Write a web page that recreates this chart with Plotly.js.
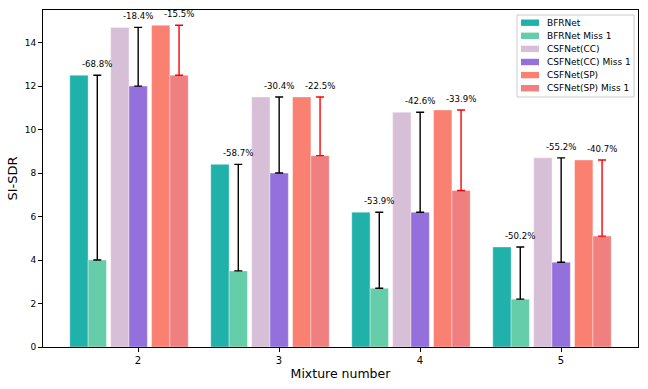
<!DOCTYPE html>
<html>
<head>
<meta charset="utf-8">
<script src="https://cdn.plot.ly/plotly-3.0.1.min.js"></script>
<style>html,body{margin:0;padding:0;background:#fff;}#chart{width:648px;height:389px;}</style>
</head>
<body>
<div id="chart"></div>
<script>
const mixtures = [2, 3, 4, 5];
const seriesNames = ['BFRNet', 'BFRNet Miss 1', 'CSFNet(CC)', 'CSFNet(CC) Miss 1', 'CSFNet(SP)', 'CSFNet(SP) Miss 1'];
const bfrnet = [12.5, 8.4, 6.2, 4.6];
const bfrnetMiss = [4.0, 3.5, 2.7, 2.2];
const csfCC = [14.7, 11.5, 10.8, 8.7];
const csfCCMiss = [12.0, 8.0, 6.2, 3.9];
const csfSP = [14.8, 11.5, 10.9, 8.6];
const csfSPMiss = [12.5, 8.8, 7.2, 5.1];
const dropBFR = ['-68.8%', '-58.7%', '-53.9%', '-50.2%'];
const dropCC = ['-18.4%', '-30.4%', '-42.6%', '-55.2%'];
const dropSP = ['-15.5%', '-22.5%', '-33.9%', '-40.7%'];

const colors = ['#20B2AA', '#66CDAA', '#D8BFD8', '#9370DB', '#FA8072', '#F08080'];
const W = 0.13;
const offsets = [-0.484, -0.354, -0.194, -0.064, 0.096, 0.226];
const FONT = 'DejaVu Sans, sans-serif';
const SMALL = 8.6;

function barTrace(k, y, full, errColor) {
  const t = {
    type: 'bar', name: seriesNames[k], x: mixtures, y: y,
    width: W, offset: offsets[k],
    marker: {color: colors[k], line: {width: 0.6, color: 'rgba(255,255,255,0.6)'}},
    hoverinfo: 'y', showlegend: false
  };
  if (full) {
    t.error_y = {
      type: 'data', symmetric: false,
      array: full.map((v, i) => v - y[i]),
      arrayminus: y.map(() => 0),
      color: errColor, thickness: 1.4, width: 4
    };
  }
  return t;
}

const traces = [
  barTrace(0, bfrnet),
  barTrace(1, bfrnetMiss, bfrnet, '#000000'),
  barTrace(2, csfCC),
  barTrace(3, csfCCMiss, csfCC, '#000000'),
  barTrace(4, csfSP),
  barTrace(5, csfSPMiss, csfSP, '#FF0000')
];

const annotations = [];
[[dropBFR, bfrnet, 1], [dropCC, csfCC, 3], [dropSP, csfSP, 5]].forEach(([labels, full, k]) => {
  mixtures.forEach((m, i) => {
    annotations.push({
      x: m + offsets[k] + W / 2, y: full[i], xref: 'x', yref: 'y',
      text: labels[i], showarrow: false, yanchor: 'bottom', yshift: 4,
      font: {family: FONT, size: SMALL, color: '#000'}
    });
  });
});

// Legend (matplotlib-style compact box), placed in paper coordinates
const M = {l: 43, r: 10, t: 10, b: 42};
const plotW = 648 - M.l - M.r, plotH = 389 - M.t - M.b;
const px = v => (v - M.l) / plotW;
const py = v => (389 - M.b - v) / plotH;
const shapes = [{
  type: 'rect', xref: 'paper', yref: 'paper',
  x0: px(517), x1: px(634), y0: py(97), y1: py(15),
  line: {color: '#cccccc', width: 1}, fillcolor: 'rgba(255,255,255,0.85)', layer: 'above'
}];
seriesNames.forEach((name, k) => {
  const cy = 22.7 + 13.1 * k;
  shapes.push({
    type: 'rect', xref: 'paper', yref: 'paper',
    x0: px(521), x1: px(539), y0: py(cy + 3.2), y1: py(cy - 3.2),
    line: {width: 0}, fillcolor: colors[k], layer: 'above'
  });
  annotations.push({
    xref: 'paper', yref: 'paper', x: px(545), y: py(cy),
    xanchor: 'left', yanchor: 'middle', showarrow: false,
    text: name, font: {family: FONT, size: SMALL + 0.4, color: '#000'}
  });
});

const layout = {
  width: 648, height: 389,
  margin: M,
  paper_bgcolor: '#fff', plot_bgcolor: '#fff',
  barmode: 'overlay',
  showlegend: false,
  font: {family: FONT, size: SMALL, color: '#000'},
  xaxis: {
    range: [1.326, 5.546], tickvals: mixtures, ticktext: mixtures.map(String),
    showgrid: false, zeroline: false, showline: true, mirror: true,
    linecolor: '#000', linewidth: 1, ticks: 'outside', ticklen: 4, tickcolor: '#000',
    tickfont: {family: FONT, size: 10},
    title: {text: 'Mixture number', font: {family: FONT, size: 12.5}, standoff: 4}
  },
  yaxis: {
    range: [0, 15.5], tickvals: [0, 2, 4, 6, 8, 10, 12, 14],
    showgrid: false, zeroline: false, showline: true, mirror: true,
    linecolor: '#000', linewidth: 1, ticks: 'outside', ticklen: 4, tickcolor: '#000',
    tickfont: {family: FONT, size: 9},
    title: {text: 'SI-SDR', font: {family: FONT, size: 13}, standoff: 4}
  },
  shapes: shapes,
  annotations: annotations
};

Plotly.newPlot('chart', traces, layout, {displayModeBar: false, staticPlot: true});
</script>
</body>
</html>
